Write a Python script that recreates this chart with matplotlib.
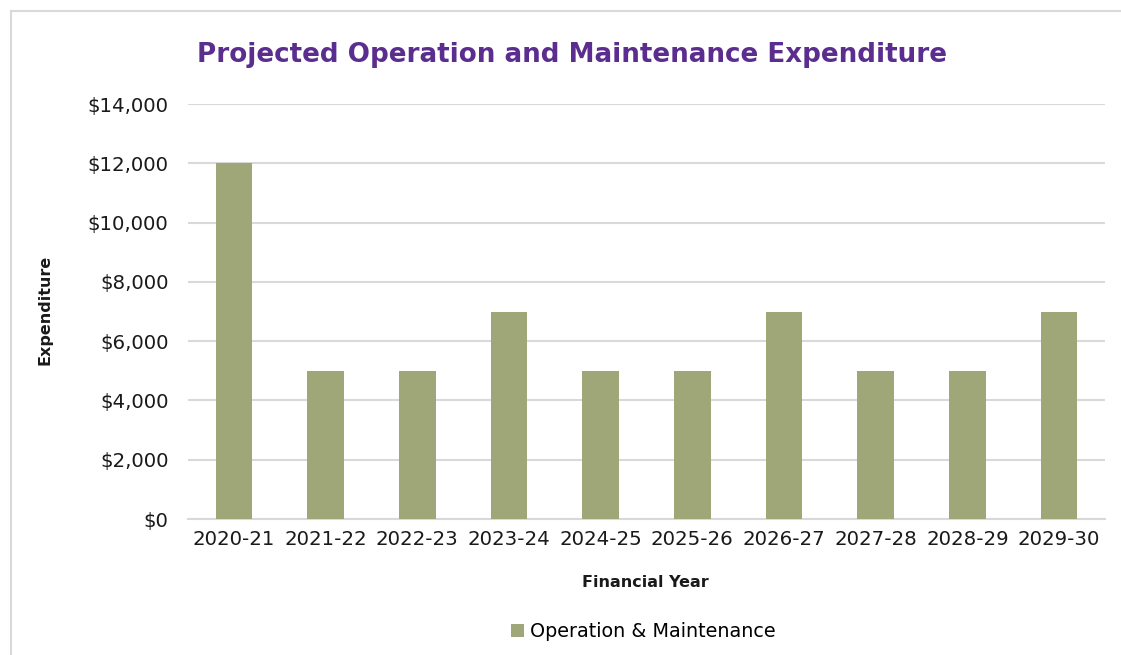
import matplotlib.pyplot as plt
from matplotlib.lines import Line2D
from matplotlib.ticker import FuncFormatter

# chart data
years = ["2020-21", "2021-22", "2022-23", "2023-24", "2024-25",
         "2025-26", "2026-27", "2027-28", "2028-29", "2029-30"]
om_costs = [12000, 5000, 5000, 7000, 5000, 5000, 7000, 5000, 5000, 7000]

bar_color = "#9FA677"
grid_color = "#D9D9D9"

fig = plt.figure(figsize=(11.21, 6.55), dpi=100)
ax = fig.add_axes([0.1677, 0.2076, 0.8180, 0.6336])

x = range(len(years))
ax.bar(x, om_costs, width=0.4, color=bar_color, label="Operation & Maintenance", zorder=3)

ax.set_ylim(0, 14000)
ax.set_xlim(-0.5, len(years) - 0.5)
ax.set_yticks(range(0, 14001, 2000))
ax.yaxis.set_major_formatter(FuncFormatter(lambda v, p: f"${v:,.0f}"))
ax.set_xticks(list(x))
ax.set_xticklabels(years)
ax.tick_params(axis="both", length=0, labelsize=14.2, colors="#1a1a1a")
ax.tick_params(axis="y", pad=14)
ax.tick_params(axis="x", pad=8)

ax.grid(axis="y", color=grid_color, linewidth=1.5, zorder=0)
for s in ["top", "right", "left"]:
    ax.spines[s].set_visible(False)
ax.spines["bottom"].set_color(grid_color)
ax.spines["bottom"].set_linewidth(1.5)

fig.text(0.510, 0.916, "Projected Operation and Maintenance Expenditure",
         ha="center", va="center", fontsize=18.8, fontweight="bold", color="#5B2D8E")
fig.text(0.576, 0.110, "Financial Year", ha="center", va="center",
         fontsize=11.5, fontweight="bold", color="#1a1a1a")
fig.text(0.040, 0.527, "Expenditure", ha="center", va="center", rotation=90,
         fontsize=11.5, fontweight="bold", color="#1a1a1a")

fig.legend(loc="center", bbox_to_anchor=(0.574, 0.036), frameon=False,
           fontsize=13.8, handlelength=0.7, handleheight=0.7, handletextpad=0.3)

# outer chart border (left and top visible in the original)
fig.add_artist(Line2D([0.0098, 0.0098], [0.0, 0.983], color=grid_color, linewidth=1.5))
fig.add_artist(Line2D([0.0098, 1.0], [0.983, 0.983], color=grid_color, linewidth=1.5))

fig.savefig("out.png", dpi=100)
